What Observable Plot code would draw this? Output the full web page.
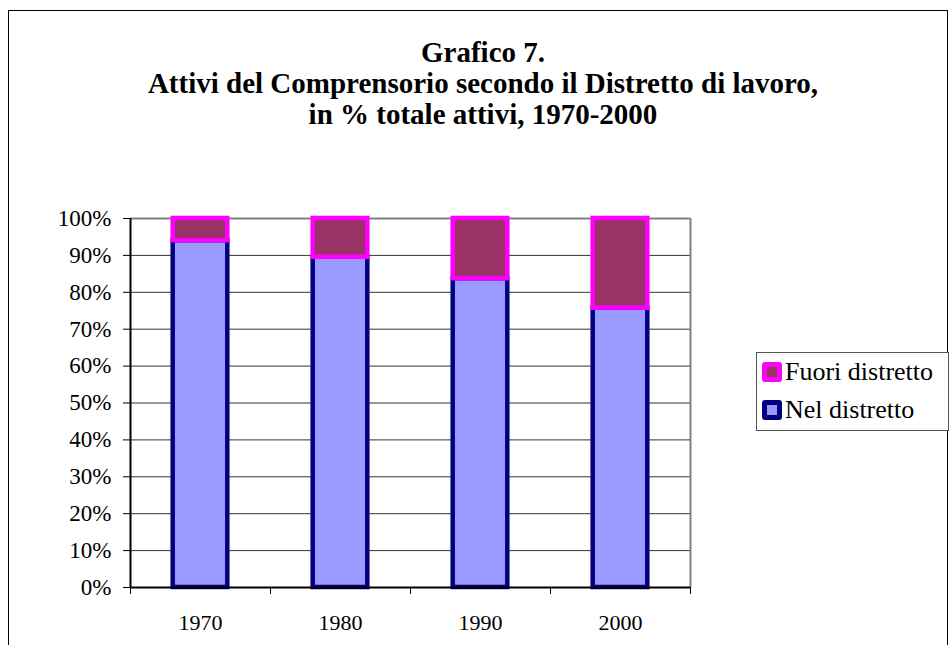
<!DOCTYPE html>
<html>
<head>
<meta charset="utf-8">
<script src="https://cdn.jsdelivr.net/npm/d3@7"></script>
<script src="https://cdn.jsdelivr.net/npm/@observablehq/plot@0.6"></script>
<style>
  html, body { margin: 0; padding: 0; background: #fff; }
  #wrap { position: relative; width: 950px; height: 645px; overflow: hidden; font-family: "Liberation Serif", "Times New Roman", serif; color: #000; }
  #frame { position: absolute; left: 8px; top: 10px; width: 940px; height: 700px; border: 1px solid #000; box-sizing: border-box; }
  #chart { position: absolute; left: 0; top: 0; }
  #chart svg, #chart svg text { font-family: "Liberation Serif", "Times New Roman", serif !important; }
  #title { position: absolute; left: 16px; width: 934px; top: 37px; text-align: center; font-weight: bold; font-size: 29px; line-height: 31px; }
  #legend { position: absolute; left: 756px; top: 352px; width: 193px; height: 79px; border: 1px solid #555; box-sizing: border-box; background: #fff; }
  .row { display: flex; align-items: center; height: 38px; padding-left: 5px; font-size: 26px; }
  .sw { width: 20px; height: 20px; box-sizing: border-box; border: 5px solid; border-radius: 3px; margin-right: 3px; }
</style>
</head>
<body>
<div id="wrap">
  <div id="frame"></div>
  <div id="chart"></div>
  <div id="title">Grafico 7.<br>Attivi del Comprensorio secondo il Distretto di lavoro,<br>in % totale attivi, 1970-2000</div>
  <div id="legend"></div>
</div>
<script>
// ---- data ----
const years = [1970, 1980, 1990, 2000];
const nelDistretto = [94.0, 89.5, 83.7, 75.7];
const fuoriDistretto = [6.0, 10.5, 16.3, 24.3];
const seriesNames = ["Fuori distretto", "Nel distretto"];
const yTicks = [0, 10, 20, 30, 40, 50, 60, 70, 80, 90, 100];

// ---- derived ----
const xDomain = [years[0] - 5, years[years.length - 1] + 5];
const boundaryTicks = years.map(y => y - 5).concat([xDomain[1]]);
const half = 1.95; // half bar width in years
const nelRows = years.map((yr, i) => ({year: yr, y1: 0, y2: nelDistretto[i]}));
const fuoriRows = years.map((yr, i) => ({year: yr, y1: nelDistretto[i], y2: nelDistretto[i] + fuoriDistretto[i]}));
const grid = yTicks.filter(t => t > 0 && t < 100);

const chart = Plot.plot({
  width: 950,
  height: 645,
  marginTop: 218,
  marginBottom: 58,
  marginLeft: 130,
  marginRight: 260,
  style: {fontFamily: "Liberation Serif, Times New Roman, serif", fontSize: "22px", color: "#000", background: "transparent", overflow: "visible"},
  x: {type: "linear", domain: xDomain},
  y: {domain: [yTicks[0], yTicks[yTicks.length - 1]]},
  marks: [
    Plot.ruleY(grid, {stroke: "#333", strokeWidth: 1}),
    Plot.ruleY([yTicks[yTicks.length - 1]], {stroke: "#808080", strokeWidth: 2}),
    Plot.ruleX([xDomain[1]], {stroke: "#808080", strokeWidth: 2}),
    Plot.rect(nelRows, {x1: d => d.year - half, x2: d => d.year + half, y1: "y1", y2: "y2", fill: "#9999FF", stroke: "#000080", strokeWidth: 4.5}),
    Plot.rect(fuoriRows, {x1: d => d.year - half, x2: d => d.year + half, y1: "y1", y2: "y2", fill: "#993366", stroke: "#FF00FF", strokeWidth: 4.5}),
    Plot.ruleX([xDomain[0]], {stroke: "#000", strokeWidth: 2}),
    Plot.ruleY([yTicks[0]], {stroke: "#000", strokeWidth: 2}),
    Plot.axisY({ticks: yTicks, tickSize: 7, tickPadding: 12, tickFormat: d => d + "%", fontSize: 23, stroke: "#000"}),
    Plot.axisX({ticks: boundaryTicks, tickSize: 7, tickFormat: () => "", stroke: "#000"}),
    Plot.axisX({ticks: years, tickSize: 0, tickPadding: 27, tickFormat: d => String(d), fontSize: 22})
  ]
});
document.getElementById("chart").appendChild(chart);

// ---- legend ----
const legendStyles = {
  "Fuori distretto": {fill: "#993366", stroke: "#FF00FF"},
  "Nel distretto": {fill: "#9999FF", stroke: "#000080"}
};
const legend = document.getElementById("legend");
seriesNames.forEach(name => {
  const row = document.createElement("div");
  row.className = "row";
  const sw = document.createElement("div");
  sw.className = "sw";
  sw.style.background = legendStyles[name].fill;
  sw.style.borderColor = legendStyles[name].stroke;
  const label = document.createElement("span");
  label.textContent = name;
  row.appendChild(sw);
  row.appendChild(label);
  legend.appendChild(row);
});
</script>
</body>
</html>
